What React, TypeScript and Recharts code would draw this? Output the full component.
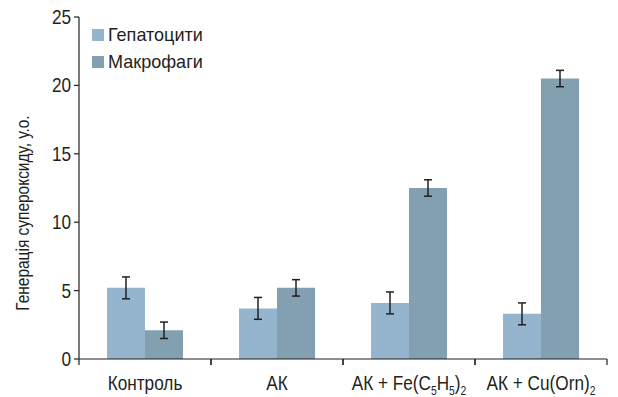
import React from "react";
import { Bar, BarChart, ErrorBar, XAxis, YAxis } from "recharts";

const categories = ["Контроль", "АК", "АК + Fe(C5H5)2", "АК + Cu(Orn)2"];
const hepatocytes = [5.2, 3.7, 4.1, 3.3];
const hepatocytesErr = [0.8, 0.8, 0.8, 0.8];
const macrophages = [2.1, 5.2, 12.5, 20.5];
const macrophagesErr = [0.6, 0.6, 0.6, 0.6];
const yTicks = [0, 5, 10, 15, 20, 25];
const seriesNames = ["Гепатоцити", "Макрофаги"];
const yLabel = "Генерація супероксиду, у.о.";

const data = categories.map((name, i) => ({
  name,
  hep: hepatocytes[i],
  hepErr: hepatocytesErr[i],
  mac: macrophages[i],
  macErr: macrophagesErr[i],
}));

const W = 618;
const H = 397;
const M = { top: 17, right: 11, left: 0, bottom: 0 };
const Y_W = 79;
const BAND = (W - M.left - M.right - Y_W) / categories.length;
const FONT = '"Liberation Sans", Arial, sans-serif';
const SX = 0.86; // condensed look
const INK = "#231f20";
const C_HEP = "#95b5cf";
const C_MAC = "#83a0b0";

// digits in the labels are chemical subscripts
function CategoryTick(props: any) {
  const { x, y, payload } = props;
  const axisY = y - 8;
  const parts = String(payload.value).split(/(\d+)/).filter((p) => p !== "");
  return (
    <g>
      <line x1={x - BAND / 2} x2={x - BAND / 2} y1={axisY} y2={axisY + 6} stroke={INK} strokeWidth={1.2} />
      <line x1={x + BAND / 2} x2={x + BAND / 2} y1={axisY} y2={axisY + 6} stroke={INK} strokeWidth={1.2} />
      <text
        transform={`translate(${x},${axisY + 31}) scale(${SX},1)`}
        textAnchor="middle"
        fontSize={20}
        fill={INK}
        fontFamily={FONT}
      >
        {parts.map((p, i) =>
          /^\d+$/.test(p) ? (
            <tspan key={i} fontSize={12} dy={5}>{p}</tspan>
          ) : (
            <tspan key={i} dy={i > 0 && /^\d+$/.test(parts[i - 1]) ? -5 : 0}>{p}</tspan>
          )
        )}
      </text>
    </g>
  );
}

function ValueTick(props: any) {
  const { x, y, payload } = props;
  return (
    <text
      transform={`translate(${x},${y}) scale(${SX},1)`}
      textAnchor="end"
      dominantBaseline="central"
      fontSize={20}
      fill={INK}
      fontFamily={FONT}
    >
      {payload.value}
    </text>
  );
}

function LegendBox() {
  const colors = [C_HEP, C_MAC];
  return (
    <div
      style={{
        position: "absolute",
        left: 92,
        top: 21,
        fontFamily: FONT,
        fontSize: 19,
        color: INK,
        lineHeight: "27px",
      }}
    >
      {seriesNames.map((n, i) => (
        <div key={n} style={{ display: "flex", alignItems: "center" }}>
          <span style={{ display: "inline-block", width: 12, height: 12, background: colors[i], marginRight: 4 }} />
          <span style={{ display: "inline-block", transform: "scaleX(0.95)", transformOrigin: "left center" }}>{n}</span>
        </div>
      ))}
    </div>
  );
}

function YTitle() {
  const cx = 23;
  const cy = 213;
  return (
    <text
      transform={`translate(${cx},${cy}) rotate(-90) scale(${SX},1)`}
      textAnchor="middle"
      dominantBaseline="central"
      fontSize={18}
      fill={INK}
      fontFamily={FONT}
    >
      {yLabel}
    </text>
  );
}

export default function App() {
  return (
    <div style={{ position: "absolute", left: 0, top: 0, width: W, height: H, background: "#fff" }}>
      <BarChart width={W} height={H} data={data} margin={M} barGap={0} barSize={38}>
        <XAxis
          dataKey="name"
          axisLine={{ stroke: INK, strokeWidth: 1.2 }}
          tickLine={false}
          tickSize={6}
          tickMargin={2}
          height={38}
          interval={0}
          tick={<CategoryTick />}
        />
        <YAxis
          width={Y_W}
          domain={[0, 25]}
          ticks={yTicks}
          interval={0}
          axisLine={{ stroke: INK, strokeWidth: 1.2 }}
          tickLine={{ stroke: INK, strokeWidth: 1.2 }}
          tickSize={5}
          tickMargin={3}
          tick={<ValueTick />}
          label={<YTitle />}
        />
        <Bar dataKey="hep" name={seriesNames[0]} fill={C_HEP} isAnimationActive={false}>
          <ErrorBar dataKey="hepErr" width={4} stroke={INK} strokeWidth={1.5} />
        </Bar>
        <Bar dataKey="mac" name={seriesNames[1]} fill={C_MAC} isAnimationActive={false}>
          <ErrorBar dataKey="macErr" width={4} stroke={INK} strokeWidth={1.5} />
        </Bar>
      </BarChart>
      <LegendBox />
    </div>
  );
}
